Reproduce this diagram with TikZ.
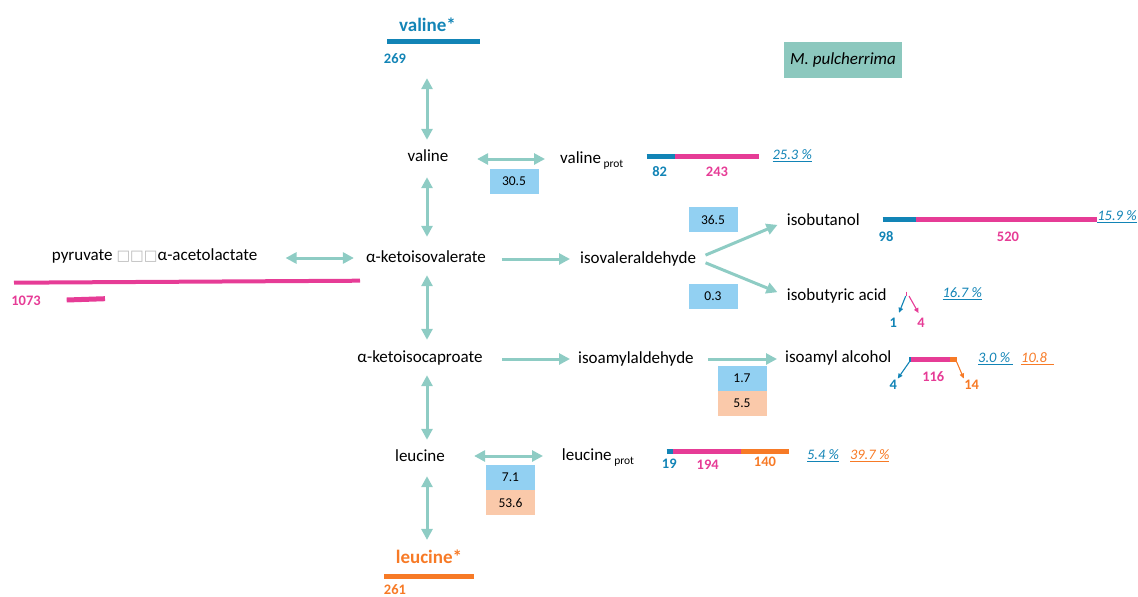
\documentclass[tikz,border=0pt]{standalone}
\usepackage{fontspec}
\setmainfont{Carlito}
\newfontfamily\boxfont{DejaVu Sans}
\usetikzlibrary{arrows.meta}
\definecolor{vblue}{RGB}{18,132,182}
\definecolor{lpink}{RGB}{230,60,150}
\definecolor{lorange}{RGB}{247,122,38}
\definecolor{teal1}{RGB}{142,204,196}
\definecolor{boxblue}{RGB}{146,208,242}
\definecolor{boxsalm}{RGB}{250,201,170}
\definecolor{mpteal}{RGB}{140,200,190}
\newcommand{\pctul}[1]{\setbox0\hbox{#1}\rlap{\raisebox{-2.6pt}{\rule{\wd0}{1.1pt}}}\box0}
\newcommand{\prot}{{\fontsize{11.5}{12}\selectfont\ \raisebox{-4pt}{prot}}}

\begin{document}
\begin{tikzpicture}[x=1pt,y=-1pt,
 lab/.style={inner sep=0pt,text height=12pt,text depth=4pt,font=\fontsize{17}{20}\selectfont},
 star/.style={inner sep=0pt,font=\fontsize{19}{22}\selectfont\bfseries},
 num/.style={inner sep=0pt,font=\fontsize{14.5}{17}\selectfont\bfseries},
 pct/.style={inner sep=0pt,text height=10pt,text depth=3pt,font=\fontsize{14.5}{17}\selectfont\itshape},
 bar/.style={inner sep=0pt,minimum height=4.5pt},
 vbox/.style={fill=boxblue,minimum width=49pt,minimum height=25pt,inner sep=0pt,font=\fontsize{13.5}{15}\selectfont},
 sbox/.style={vbox,fill=boxsalm},
 dbl/.style={teal1,line width=3pt,{Triangle[length=11pt,width=11pt]}-{Triangle[length=11pt,width=11pt]}},
 sgl/.style={teal1,line width=3pt,-{Triangle[length=11pt,width=11pt]}},
 tick/.style={line width=1.1pt,shorten >=5pt,-{Triangle[length=5pt,width=4.5pt]}}
]
\useasboundingbox (0,0) rectangle (1138,597);

% main column
\draw (427.5,25) node[star,text=vblue] (V0) {valine*};
\node[bar,fill=vblue,minimum width=93pt] (V0b) at (433.4,41.7) {};
\draw (395,59) node[num,text=vblue] (N0) {269};
\draw (428,157) node[lab] (V1) {valine};
\draw (426,258) node[lab] (K1) {α-ketoisovalerate};
\draw (420,358) node[lab] (K2) {α-ketoisocaproate};
\draw (420,457) node[lab] (L1) {leucine};
\draw (429,557) node[star,text=lorange] (L0) {leucine*};
\node[bar,fill=lorange,minimum width=90pt] (L0b) at (429,576.7) {};
\draw (395,589.5) node[num,text=lorange] (N1) {261};
\coordinate (ax) at (427,0);

\draw[dbl,shorten <=34pt,shorten >=9pt] (V0b.south -| ax) -- (V1.north -| ax);
\draw[dbl,shorten <=12pt,shorten >=13pt] (V1.south -| ax) -- (K1.north -| ax);
\draw[dbl,shorten <=9pt,shorten >=10pt] (K1.south -| ax) -- (K2.north -| ax);
\draw[dbl,shorten <=9pt,shorten >=9pt] (K2.south -| ax) -- (L1.north -| ax);
\draw[dbl,shorten <=11pt,shorten >=10pt] (L1.south -| ax) -- (L0.north -| ax);

% pyruvate
\draw (51.7,256.7) node[lab,anchor=west] (P1) {pyruvate {\boxfont\fontsize{14.5}{17}\selectfont\color{gray!55}□□□}α-acetolactate};
\draw[dbl,shorten <=12pt,shorten >=28pt] (K1.west) -- (P1.east |- K1.west);
\draw[lpink,line width=4pt] (14,282.7) -- (360,280.7);
\draw (26,300.7) node[num,text=lpink] (N2) {1073};
\draw[lpink,line width=5pt] (66.7,300) -- (105,298.7);

% valine prot
\draw (560,159) node[lab,anchor=west] (V2) {valine\prot};
\draw[dbl,shorten <=28.5pt,shorten >=15pt] (V1.east |- V2.west) -- (V2.west);
\node[vbox] (B1) at (514,181.5) {30.5};
\draw[vblue,line width=5pt] (646.7,156.7) -- (675,156.7);
\draw[lpink,line width=5pt] (675,156.7) -- (759.3,156.7);
\draw (659.7,171.7) node[num,text=vblue] (N3) {82};
\draw (717,171.7) node[num,text=lpink] (N4) {243};
\draw (792.3,155.7) node[pct,text=vblue] (C1) {\pctul{25.3 \%}};

% isovaleraldehyde
\draw (580,259) node[lab,anchor=west] (A1) {isovaleraldehyde};
\draw[sgl,shorten <=15.5pt,shorten >=10pt] (K1.east |- A1.west) -- (A1.west);
\draw (786.7,221) node[lab,anchor=west] (A2) {isobutanol};
\draw (786.7,296) node[lab,anchor=west] (A3) {isobutyric acid};
\draw[sgl,shorten <=10pt,shorten >=10pt] (A1.east) -- (A2.west);
\draw[sgl,shorten <=10pt,shorten >=10pt] (A1.east) -- (A3.west);
\node[vbox] (B2) at (713,219.5) {36.5};
\node[vbox] (B3) at (713,296) {0.3};
\draw[vblue,line width=5pt] (882.7,219.3) -- (915.7,219.3);
\draw[lpink,line width=5pt] (915.7,219.3) -- (1096.7,219.3);
\draw (886,236.7) node[num,text=vblue] (N5) {98};
\draw (1008,236.7) node[num,text=lpink] (N6) {520};
\draw (1117,217.3) node[pct,text=vblue] (C2) {\pctul{15.9 \%}};

\draw[lpink,line width=1.5pt] (906.7,291.5) -- (906.7,296);
\draw (893.3,322.3) node[num,text=vblue] (N7) {1};
\draw (921,322.3) node[num,text=lpink] (N8) {4};
\draw[tick,vblue] (905.7,296) -- (N7.north east);
\draw[tick,lpink] (909,296) -- (N8.north);
\draw (962.3,294.3) node[pct,text=vblue] (C3) {\pctul{16.7 \%}};

% isoamyl
\draw (578,359) node[lab,anchor=west] (A4) {isoamylaldehyde};
\draw (785,358) node[lab,anchor=west] (A5) {isoamyl alcohol};
\draw[sgl,shorten <=19.5pt,shorten >=8pt] (K2.east |- A4.west) -- (A4.west);
\draw[sgl,shorten <=14pt,shorten >=8pt] (A4.east) -- (A5.west |- A4.east);
\node[vbox] (B4) at (742,378.5) {1.7};
\node[sbox] (B5) at (742,403.5) {5.5};
\draw[vblue,line width=5pt] (909,359.3) -- (910.7,359.3);
\draw[lpink,line width=5pt] (910.7,359.3) -- (950,359.3);
\draw[lorange,line width=5pt] (950,359.3) -- (956.5,359.3);
\draw (893.3,384.3) node[num,text=vblue] (N9) {4};
\draw (933.3,376.7) node[num,text=lpink] (N10) {116};
\draw (971.7,384.3) node[num,text=lorange] (N11) {14};
\draw[tick,vblue,shorten >=1pt] (909.3,362) -- (N9.north east);
\draw[tick,lorange,shorten >=1pt] (956.7,362) -- (N11.north west);
\draw (978,359) node[pct,anchor=west,text=vblue] (C4) {\pctul{3.0 \%\hspace{3pt}}};
\draw (1021,359) node[pct,anchor=west,text=lorange] (C5) {\pctul{10.8\hspace{7pt}}};

% leucine prot
\draw (561.7,456) node[lab,anchor=west] (L2) {leucine\prot};
\draw[dbl,shorten <=29pt,shorten >=18.7pt] (L1.east |- L2.west) -- (L2.west);
\node[vbox] (B6) at (510.5,477.5) {7.1};
\node[sbox] (B7) at (510.5,502.5) {53.6};
\draw[vblue,line width=5pt] (666.7,451) -- (673.3,451);
\draw[lpink,line width=5pt] (673.3,451) -- (741,451);
\draw[lorange,line width=5pt] (741,451) -- (789,451);
\draw (669.3,463.5) node[num,text=vblue] (N12) {19};
\draw (707.7,465) node[num,text=lpink] (N13) {194};
\draw (765,461.7) node[num,text=lorange] (N14) {140};
\draw (823,455.7) node[pct,text=vblue] (C6) {\pctul{5.4 \%}};
\draw (869.7,455.7) node[pct,text=lorange] (C7) {\pctul{39.7 \%}};

\node[fill=mpteal,minimum width=118pt,minimum height=35.5pt,inner sep=0pt,font=\fontsize{17}{20}\selectfont\itshape] (M) at (843,60) {M. pulcherrima};
\end{tikzpicture}
\end{document}
